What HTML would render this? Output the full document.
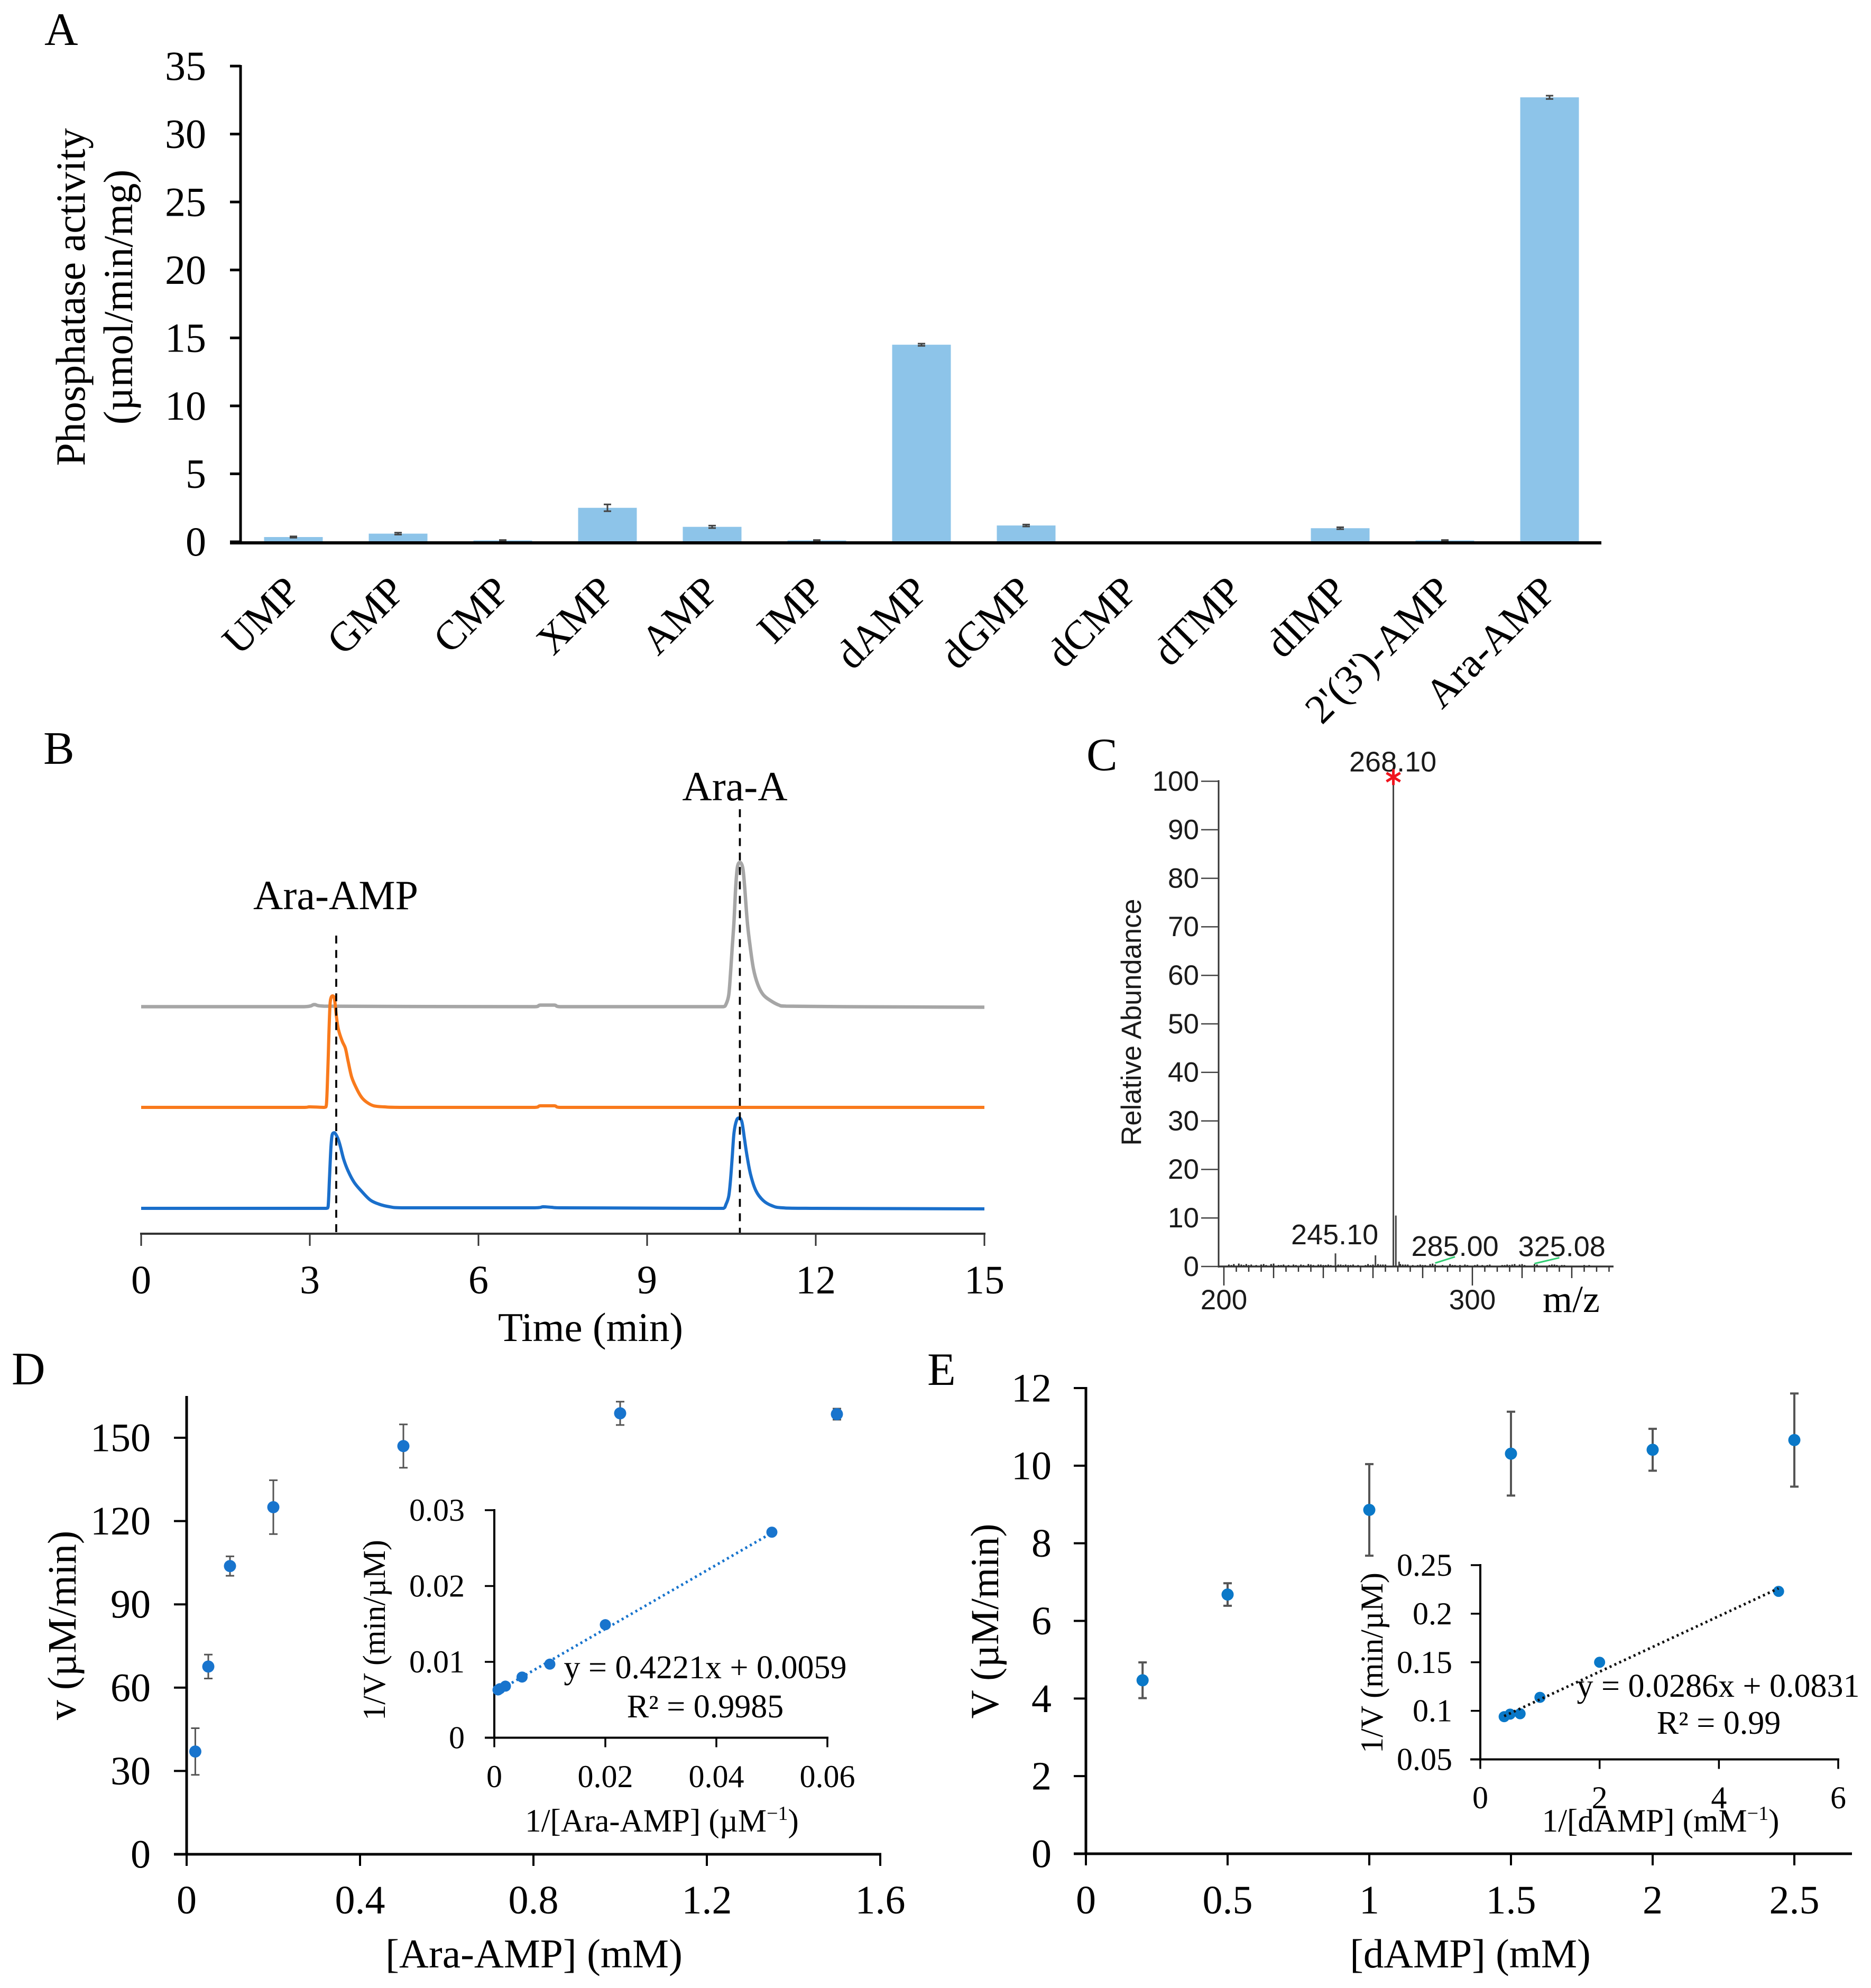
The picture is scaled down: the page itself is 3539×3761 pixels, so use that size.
<!DOCTYPE html>
<html lang="en">
<head>
<meta charset="utf-8">
<title>Phosphatase activity figure</title>
<style>
html,body{margin:0;padding:0;background:#fff;}
svg{display:block;}
text{font-family:"Liberation Serif",serif;fill:#000;}
.sans{font-family:"Liberation Sans",sans-serif;fill:#1a1a1a;}
.panel{font-size:88px;}
.t78{font-size:78px;}
.t77{font-size:77px;}
.t61{font-size:61px;}
.t60{font-size:60px;}
.t65{font-size:62px;}
</style>
</head>
<body>
<svg id="fig" xmlns="http://www.w3.org/2000/svg" width="3539" height="3761" viewBox="0 0 3539 3761">
<rect width="3539" height="3761" fill="#fff"/>

<g id="panelA">
<text class="panel" x="84" y="85">A</text>
<text class="t78" text-anchor="middle" transform="translate(160 562) rotate(-90)">Phosphatase activity</text>
<text class="t78" text-anchor="middle" transform="translate(250 562) rotate(-90)">(µmol/min/mg)</text>
</g>

<g id="panelB">
<text class="panel" x="82" y="1445">B</text>
<text class="t78" text-anchor="middle" x="1390" y="1514">Ara-A</text>
<text class="t78" text-anchor="middle" x="635" y="1720">Ara-AMP</text>
<text class="t77" text-anchor="middle" x="1117" y="2537">Time (min)</text>
</g>

<g id="panelC">
<text class="panel" x="2055" y="1457">C</text>
<text class="sans" font-size="52.5" text-anchor="middle" transform="translate(2158 1934) rotate(-90)">Relative Abundance</text>
<text font-size="72" text-anchor="middle" x="2972" y="2482">m/z</text>
</g>

<g id="panelD">
<text class="panel" x="22" y="2619">D</text>
<text font-size="76" text-anchor="middle" transform="translate(143 3075) rotate(-90)">v (µM/min)</text>
<text font-size="77.5" text-anchor="middle" x="1010" y="3722">[Ara-AMP] (mM)</text>
<text class="t60" text-anchor="middle" transform="translate(728 3084) rotate(-90)">1/V (min/µM)</text>
<text class="t61" text-anchor="middle" x="1252" y="3465">1/[Ara-AMP] (µM<tspan font-size="38" dy="-22">−1</tspan><tspan dy="22">)</tspan></text>
<text class="t65" text-anchor="middle" x="1334" y="3175">y = 0.4221x + 0.0059</text>
<text class="t65" text-anchor="middle" x="1334" y="3249">R² = 0.9985</text>
</g>

<g id="panelE">
<text class="panel" x="1754" y="2620">E</text>
<text font-size="75" text-anchor="middle" transform="translate(1888 3067) rotate(-90)">V (µM/min)</text>
<text class="t77" text-anchor="middle" x="2781" y="3722">[dAMP] (mM)</text>
<text class="t60" text-anchor="middle" transform="translate(2615 3146) rotate(-90)">1/V (min/µM)</text>
<text class="t61" text-anchor="middle" x="3141" y="3465">1/[dAMP] (mM<tspan font-size="38" dy="-22">−1</tspan><tspan dy="22">)</tspan></text>
<text class="t65" text-anchor="middle" x="3250" y="3210">y = 0.0286x + 0.0831</text>
<text class="t65" text-anchor="middle" x="3251" y="3280">R² = 0.99</text>
</g>
</svg>

<script>
/* ---------- Panel A data ---------- */
const aCategories = ["UMP","GMP","CMP","XMP","AMP","IMP","dAMP","dGMP","dCMP","dTMP","dIMP","2'(3')-AMP","Ara-AMP"];
const aValues = [0.35,0.6,0.1,2.5,1.1,0.1,14.5,1.2,0,0,1.0,0.1,32.7];
const aErrors = [0.05,0.07,0.03,0.25,0.09,0.03,0.08,0.07,0,0,0.07,0.03,0.12];
const aTicks = [0,5,10,15,20,25,30,35];

/* ---------- Panel B data ---------- */
const bTicks = [0,3,6,9,12,15];
const bOffsetGray = 429.5;
const bOffsetOrange = 239;
const bOffsetBlue = 48;
const bTimeGray = [0,2.9,3.08,3.25,7.0,7.1,7.35,7.45,10.2,10.358,10.405,10.452,10.483,10.514,10.546,10.577,10.608,10.655,10.702,10.734,10.781,10.828,10.891,10.969,11.063,11.188,11.345,11.47,12.5,15];
const bSignalGray = [0,0,4,1,0,3,3,0,0,0,5,22,62,112,162,228,265,273,262,228,162,118,72,42,23,12,3,1,0,-1];
const bTimeOrange = [0,2.9,3.0,3.257,3.295,3.32,3.339,3.358,3.376,3.407,3.439,3.47,3.508,3.577,3.633,3.68,3.743,3.821,3.915,4.01,4.135,4.323,4.7,7.0,7.1,7.35,7.45,9.8,15];
const bSignalOrange = [0,0,1,0,5,68,135,192,207,211,205,175,148,125,112,88,58,38,20,10,3,1,0,0,3,3,0,0,0];
const bTimeBlue = [0,3.288,3.325,3.351,3.376,3.398,3.439,3.492,3.539,3.602,3.68,3.79,3.915,4.072,4.229,4.417,4.636,5.5,7.0,7.15,7.3,7.45,10.2,10.358,10.405,10.452,10.483,10.514,10.546,10.593,10.64,10.687,10.734,10.781,10.843,10.937,11.063,11.22,11.408,12,15];
const bSignalBlue = [0,0,3,59,116,139,143,134,119,93,71,49,33,16,8,3,1,1,1,3,2,1,0,0,8,23,53,97,143,167,171,163,130,97,63,33,15,5,1,0,-1];
const bMarkerTimes = [3.47,10.65];
const bMarkerTops = [564,803];

/* ---------- Panel C data ---------- */
const cYTicks = [0,10,20,30,40,50,60,70,80,90,100];
const cXLabels = [200,300];
const cMainPeaks = [[268.2,100],[269.2,10.5],[244.9,2.7],[261,2.3],[270.5,1]];
const cNoisePeaks = [[202,.4],[203,.3],[204,.5],[206,.6],[207,.4],[208,.3],[209,.5],[210,.3],[211,.4],[213,.3],[215,.4],[216,.5],[217,.3],[219,.5],[220,.6],[222,.3],[223,.3],[224,.4],[226,.3],[228,.4],[229,.3],[231,.4],[232,.3],[234,.5],[235,.4],[236,.3],[238,.4],[239,.4],[240,.3],[241,.3],[242,.4],[243,.3],[246,.4],[247,.4],[248,.3],[249,.4],[250,.3],[251,.3],[252,.4],[254,.3],[257,.3],[258,.5],[259,.3],[260,.4],[262,.5],[263,.4],[264,.4],[265,.4],[271,.5],[272,.4],[273,.4],[274,.4],[276,.3],[278,.3],[279,.4],[280,.3],[281,.3],[283,.5],[284,.6],[285,.4],[288,.3],[291,.5],[292,.3],[293,.3],[295,.3],[297,.4],[298,.3],[301,.3],[302,.4],[304,.3],[306,.3],[307,.4],[312,.3],[313,.3],[314,.4],[315,.3],[316,.4],[317,.5],[319,.4],[320,.5],[321,.3],[325,.5],[326,.4],[331,.3],[332,.4],[333,.4],[334,.3],[336,.3],[337,.3],[345,.3],[347,.3]];
const cPeakLabels = ["268.10","245.10","285.00","325.08"];
const cPeakLabelMz = [268,244.6,293,336];
const cPeakLabelAbundance = [102,4.6,2.2,2.1];

/* ---------- Panel D data ---------- */
const dConc = [0.02,0.05,0.1,0.2,0.5,1.0,1.5];
const dRate = [37,67.6,103.8,125,147,158.8,158.5];
const dRateErr = [8.4,4.3,3.5,9.7,7.8,4.2,2];
const dXTicks = [0,0.4,0.8,1.2,1.6];
const dYTicks = [0,30,60,90,120,150];
const dInsetX = [0.05,0.02,0.01,0.005,0.002,0.001,0.00067];
const dInsetY = [0.0271,0.0149,0.0097,0.008,0.0068,0.00646,0.0063];
const dInsetXTicks = [0,0.02,0.04,0.06];
const dInsetYTicks = [0,0.01,0.02,0.03];
const dTrend = [0.4221,0.0059];

/* ---------- Panel E data ---------- */
const eConc = [0.2,0.5,1,1.5,2,2.5];
const eRate = [4.47,6.68,8.86,10.31,10.41,10.66];
const eRateErr = [0.46,0.29,1.18,1.08,0.54,1.2];
const eXTicks = [0,0.5,1,1.5,2,2.5];
const eYTicks = [0,2,4,6,8,10,12];
const eInsetX = [5,2,1,0.667,0.5,0.4];
const eInsetY = [0.223,0.15,0.1139,0.097,0.0966,0.094];
const eInsetXTicks = [0,2,4,6];
const eInsetYTicks = [0.05,0.1,0.15,0.2,0.25];
const eTrend = [0.0286,0.0831];

/* ---------- helpers ---------- */
const NS = "http://www.w3.org/2000/svg";
const linear = (d0,d1,r0,r1) => v => r0 + (v-d0)*(r1-r0)/(d1-d0);
function mk(parent, tag, attrs, txt){
  const n = document.createElementNS(NS, tag);
  for (const k in attrs) n.setAttribute(k, attrs[k]);
  if (txt !== undefined) n.textContent = txt;
  parent.appendChild(n);
  return n;
}
function seg(parent,x1,y1,x2,y2,color,w){
  return mk(parent,"line",{x1:x1,y1:y1,x2:x2,y2:y2,stroke:color,"stroke-width":w});
}
function vAxisTicks(parent, ticks, fy, axisX, tickLen, labelRight, size, color, w, sans){
  ticks.forEach(t=>{
    const y = fy(t);
    const tk = seg(parent,axisX-tickLen,y,axisX,y,color,w);
    
    
    const lb = mk(parent,"text",{x:labelRight,y:y+size*0.335,"text-anchor":"end","font-size":size,class:sans?"sans":""},String(t));
    
    
  });
}
function hAxisTicks(parent, ticks, fx, axisY, tickLen, labelY, size, color, w){
  ticks.forEach(t=>{
    const x = fx(t);
    const tk = seg(parent,x,axisY,x,axisY+tickLen,color,w);
    
    
    const lb = mk(parent,"text",{x:x,y:labelY,"text-anchor":"middle","font-size":size},String(t));
    
    
  });
}
function points(parent, xs, ys, fx, fy, r, color){
  xs.forEach((v,i)=>{
    const c = mk(parent,"ellipse",{cx:fx(v),cy:fy(ys[i]),rx:r,ry:r,fill:color});
    
    
  });
}
function errorBars(parent, xs, ys, es, fx, fy, cap, color, w){
  xs.forEach((v,i)=>{
    const x = fx(v), hi = fy(ys[i]+es[i]), lo = fy(ys[i]-es[i]);
    const g = mk(parent,"path",{d:`M${x} ${hi}V${lo}M${x-cap} ${hi}H${x+cap}M${x-cap} ${lo}H${x+cap}`,fill:"none",stroke:color,"stroke-width":w});
    
    
  });
}
function axisLine(parent,x1,y1,x2,y2,color,w,name){
  const l = seg(parent,x1,y1,x2,y2,color,w);
  
  
  return l;
}
function trendLine(parent, xs, coef, fx, fy, color){
  const x0 = Math.min(...xs), x1 = Math.max(...xs);
  const l = seg(parent,fx(x0),fy(coef[0]*x0+coef[1]),fx(x1),fy(coef[0]*x1+coef[1]),color,5);
  l.setAttribute('stroke-dasharray','4 6');
  
  
}
function smoothPath(px, py){
  let d = "M"+px[0].toFixed(1)+" "+py[0].toFixed(1);
  const clamp = (v,a,b) => Math.max(Math.min(a,b),Math.min(Math.max(a,b),v));
  for (let i=0;i<px.length-1;i++){
    const p0 = Math.max(i-1,0), p3 = Math.min(i+2,px.length-1);
    const c1x = clamp(px[i]+(px[i+1]-px[p0])/6,px[i],px[i+1]);
    const c2x = clamp(px[i+1]-(px[p3]-px[i])/6,px[i],px[i+1]);
    const c1y = clamp(py[i]+(py[i+1]-py[p0])/6,py[i],py[i+1]);
    const c2y = clamp(py[i+1]-(py[p3]-py[i])/6,py[i],py[i+1]);
    d += "C"+c1x.toFixed(1)+" "+c1y.toFixed(1)+" "+c2x.toFixed(1)+" "+c2y.toFixed(1)+" "+px[i+1].toFixed(1)+" "+py[i+1].toFixed(1);
  }
  return d;
}

/* ---------- Panel A ---------- */
(function(){
  const g = document.getElementById("panelA");
  const fy = linear(0,35,1025,125);
  const fx = i => 555 + i*198;
  const barW = 111;
  aValues.forEach((v,i)=>{
    const b = mk(g,"rect",{x:fx(i)-barW/2,y:fy(v),width:barW,height:fy(0)-fy(v),fill:"#8DC4E9"});
    
    
  });
  const idx = aValues.map((_,i)=>i).filter(i=>aValues[i]>0);
  errorBars(g, idx, idx.map(i=>aValues[i]), idx.map(i=>aErrors[i]), fx, fy, 7, "#444", 3);
  axisLine(g,455,123,455,1028,"#000",5,"y-axis");
  vAxisTicks(g,aTicks,fy,455,20,390,78,"#000",5,false);
  axisLine(g,435,1027,3029,1027,"#000",6,"x-axis");
  aCategories.forEach((c,i)=>{
    const x = fx(i)+17, y = 1123;
    const t = mk(g,"text",{"text-anchor":"end","font-size":78,transform:`translate(${x} ${y}) rotate(-45)`},c);
    
    
  });
})();

/* ---------- Panel B ---------- */
(function(){
  const g = document.getElementById("panelB");
  const fx = linear(0,15,267,1862);
  const fy = linear(0,1000,2334,1334);
  function trace(ts, vs, off, color, w, name){
    const d = smoothPath(ts.map(fx), vs.map(v=>fy(v+off)));
    const p = mk(g,"path",{d:d,fill:"none",stroke:color,"stroke-width":w,"stroke-linejoin":"round"});
    
    
  }
  trace(bTimeGray,bSignalGray,bOffsetGray,"#A6A6A6",6.5,"trace-gray");
  trace(bTimeOrange,bSignalOrange,bOffsetOrange,"#F97A1C",6,"trace-orange");
  trace(bTimeBlue,bSignalBlue,bOffsetBlue,"#1A6FCB",6,"trace-blue");
  bMarkerTimes.forEach((t,i)=>{
    const l = seg(g,fx(t),fy(bMarkerTops[i]),fx(t),fy(0),"#000",3.7);
    l.setAttribute('stroke-dasharray','15 12.3');
    
    
  });
  axisLine(g,265,2334,1864,2334,"#333",4,"x-axis");
  hAxisTicks(g,bTicks,fx,2334,23,2447,76,"#333",3);
})();

/* ---------- Panel C ---------- */
(function(){
  const g = document.getElementById("panelC");
  const fx = linear(200,300,2315,2785);
  const fy = linear(0,100,2396,1478);
  cNoisePeaks.forEach(p=>{
    const s = seg(g,fx(p[0]),fy(0),fx(p[0]),fy(p[1]),"#222",3);
    
    
  });
  cMainPeaks.forEach(p=>{
    const s = seg(g,fx(p[0]),fy(0),fx(p[0]),fy(p[1]),"#444",3);
    
    
  });
  axisLine(g,2305,1476,2305,2398,"#333",3,"y-axis");
  axisLine(g,2305,2396,3052,2396,"#333",3.5,"x-axis");
  vAxisTicks(g,cYTicks,fy,2305,33,2268,53,"#444",2.5,true);
  for (let m=200;m<=355;m+=5){
    const len = m%100===0 ? 36 : (m%20===0 ? 22 : 10);
    const tk = seg(g,fx(m),2396,fx(m),2396+len,"#333",2.5);
    
    
  }
  cXLabels.forEach(m=>{
    const t = mk(g,"text",{x:fx(m),y:2477,"text-anchor":"middle","font-size":53,class:"sans"},String(m));
    
    
  });
  cPeakLabels.forEach((s,i)=>{
    const t = mk(g,"text",{x:fx(cPeakLabelMz[i]),y:fy(cPeakLabelAbundance[i]),"text-anchor":"middle","font-size":54,class:"sans"},s);
    
    
  });
  const c1 = seg(g,fx(285),fy(0.7),fx(293),fy(2.0),"#2ecc71",3);
  
  
  const c2 = seg(g,fx(325),fy(0.6),fx(335),fy(1.8),"#2ecc71",3);
  
  
  const sx = fx(cMainPeaks[0][0]), sy = fy(cMainPeaks[0][1]+0.85);
  const star = mk(g,"path",{d:`M${sx} ${sy-15}V${sy+15}M${sx-13} ${sy-8}L${sx+13} ${sy+8}M${sx-13} ${sy+8}L${sx+13} ${sy-8}`,stroke:"#F0141E","stroke-width":5,fill:"none"});
  
  
})();

/* ---------- Panel D ---------- */
(function(){
  const g = document.getElementById("panelD");
  const fx = linear(0,1.6,353,1665);
  const fy = linear(0,150,3508,2720);
  axisLine(g,353,2641,353,3510,"#000",5,"y-axis");
  axisLine(g,329,3508,1667,3508,"#000",5,"x-axis");
  vAxisTicks(g,dYTicks,fy,353,24,285,76,"#000",4,false);
  hAxisTicks(g,dXTicks,fx,3508,22,3620,76,"#000",4);
  errorBars(g,dConc,dRate,dRateErr,fx,fy,8,"#555",3);
  points(g,dConc,dRate,fx,fy,11.5,"#1874CD");
  const ix = linear(0,0.06,935,1565);
  const iy = linear(0,0.03,3287.5,2857);
  axisLine(g,935,2855,935,3289,"#000",4,"inset-y-axis");
  axisLine(g,917,3287.5,1567,3287.5,"#000",4,"inset-x-axis");
  vAxisTicks(g,dInsetYTicks,iy,935,18,879,60,"#000",3.5,false);
  hAxisTicks(g,dInsetXTicks,ix,3287.5,18,3381,60,"#000",3.5);
  trendLine(g,dInsetX,dTrend,ix,iy,"#1874CD");
  points(g,dInsetX,dInsetY,ix,iy,10.5,"#1874CD");
})();

/* ---------- Panel E ---------- */
(function(){
  const g = document.getElementById("panelE");
  const fx = linear(0,2.5,2054,3394);
  const fy = linear(0,12,3507,2626);
  axisLine(g,2054,2624,2054,3509,"#000",5,"y-axis");
  axisLine(g,2031,3507,3503,3507,"#000",5,"x-axis");
  vAxisTicks(g,eYTicks,fy,2054,23,1989,76,"#000",4,false);
  hAxisTicks(g,eXTicks,fx,3507,22,3620,76,"#000",4);
  errorBars(g,eConc,eRate,eRateErr,fx,fy,8,"#555",4);
  points(g,eConc,eRate,fx,fy,11.5,"#0A78C8");
  const ix = linear(0,6,2800,3477);
  const iy = linear(0.05,0.25,3328.5,2961);
  axisLine(g,2800,2959,2800,3330,"#000",4,"inset-y-axis");
  axisLine(g,2781,3328.5,3479,3328.5,"#000",4,"inset-x-axis");
  vAxisTicks(g,eInsetYTicks,iy,2800,18,2747,60,"#000",3.5,false);
  hAxisTicks(g,eInsetXTicks,ix,3328.5,18,3421,60,"#000",3.5);
  points(g,eInsetX,eInsetY,ix,iy,10.5,"#0A78C8");
  trendLine(g,eInsetX,eTrend,ix,iy,"#111");
})();
</script>
</body>
</html>
